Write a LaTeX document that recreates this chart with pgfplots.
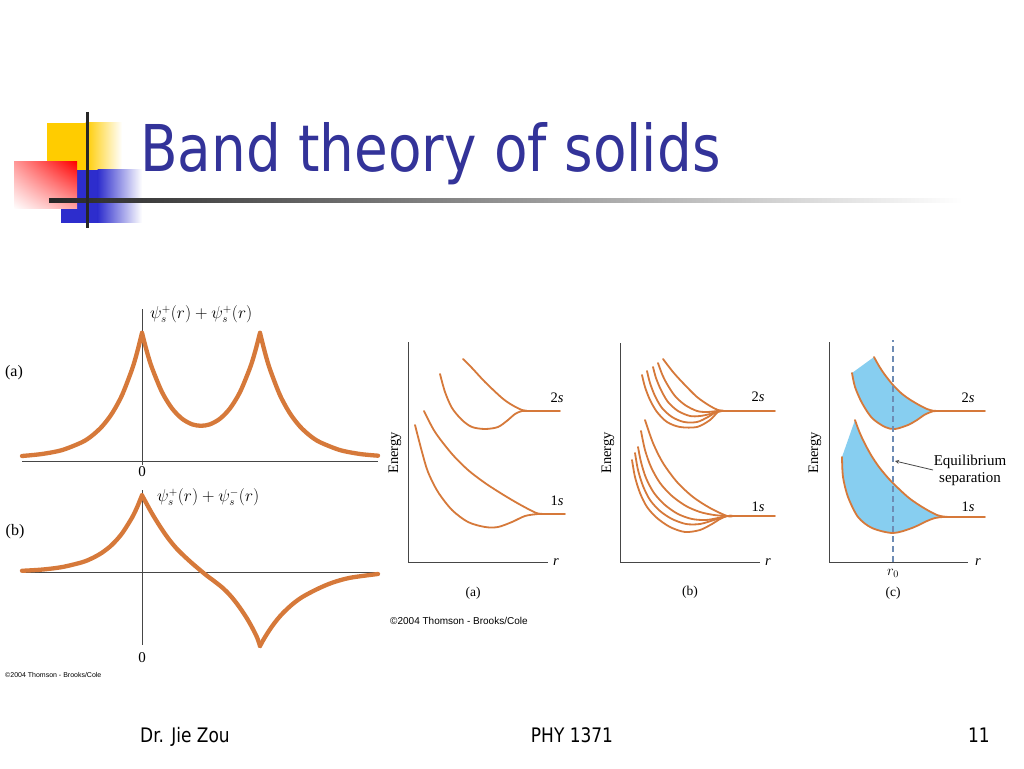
\documentclass[border=0pt]{standalone}
\usepackage{fontspec}
\setmainfont{Liberation Serif}
\newfontfamily\tahoma{DejaVu Sans}
\newfontfamily\arial{Liberation Sans}
\usepackage{graphicx}
\usepackage{pgfplots}
\pgfplotsset{compat=1.18}
\usepgfplotslibrary{fillbetween}
\usetikzlibrary{shadings}
\definecolor{titleblue}{RGB}{51,51,153}
\definecolor{orangec}{RGB}{214,121,58}
\definecolor{bandfill}{RGB}{135,206,240}
\definecolor{dashc}{RGB}{110,140,180}
\definecolor{yel}{RGB}{255,204,0}
\definecolor{blu}{RGB}{45,45,205}
\definecolor{axc}{RGB}{70,70,70}
\pgfplotsset{
  panel/.style={hide axis, scale only axis, clip=false, anchor=south west, enlargelimits=false},
  bcurve/.style={orangec, line width=1.8pt, smooth, no markers, line cap=round, line join=round},
  wcurve/.style={orangec, line width=4.3pt, smooth, no markers, line cap=round, line join=round},
  axl/.style={axc, line width=0.9pt, no markers},
}
\newcommand{\fs}[1]{\fontsize{#1}{#1}\selectfont}
\begin{document}
\begin{tikzpicture}
\fill[white] (0,0) rectangle (1024pt,768pt);
% ---------------- slide decoration and texts (image coordinates) -------------
\begin{scope}[shift={(0pt,768pt)}, x=1pt, y=-1pt]
  \fill[yel] (47,123) rectangle (86,172);
  \shade[left color=yel, right color=white] (85.5,123) rectangle (122,172);
  \fill[blu] (61,170) rectangle (98,223);
  \shade[left color=blu, right color=white] (97.5,170) rectangle (142,223);
  \shade[upper left=red!40!white, upper right=red, lower left=white, lower right=red!35!white] (14,162) rectangle (77,209);
  \shade[left color=black!85, right color=white] (49,199) rectangle (963,203);
  \draw[black!85, line width=3pt] (87,112) -- (87,228);
  \node[anchor=base west, inner sep=0, text=titleblue] at (140,172)
     {\scalebox{0.85}[1]{\tahoma\fs{64.5}Band theory of solids}};
  % footer
  \node[anchor=base west, inner sep=0] at (140,742) {\scalebox{0.85}[1]{\tahoma\fs{20}Dr. Jie Zou}};
  \node[anchor=base, inner sep=0] at (572,742) {\scalebox{0.85}[1]{\tahoma\fs{20}PHY 1371}};
  \node[anchor=base east, inner sep=0] at (990,742) {\scalebox{0.85}[1]{\tahoma\fs{20}11}};
  % left figure texts
  \node[inner sep=0] at (14,373) {\fs{16}(a)};
  \node[inner sep=0] at (15,532) {\fs{16}(b)};
  \node[anchor=west, inner sep=0] at (150,314) {\fs{16}$\psi_s^+(r)+\psi_s^+(r)$};
  \node[anchor=west, inner sep=0] at (157,497) {\fs{16}$\psi_s^+(r)+\psi_s^-(r)$};
  \node[inner sep=0] at (142,472) {\fs{15}0};
  \node[inner sep=0] at (142,658) {\fs{15}0};
  \node[anchor=west, inner sep=0] at (5,675) {\arial\fs{7}\textcopyright2004 Thomson - Brooks/Cole};
  % right figure texts
  \node[rotate=90, inner sep=0] at (395,453) {\fs{14.5}Energy};
  \node[rotate=90, inner sep=0] at (608,453) {\fs{14.5}Energy};
  \node[rotate=90, inner sep=0] at (815,453) {\fs{14.5}Energy};
  \node[inner sep=0] at (557,398) {\fs{14.5}2\textit{s}};
  \node[inner sep=0] at (557,501) {\fs{14.5}1\textit{s}};
  \node[inner sep=0] at (758,397) {\fs{14.5}2\textit{s}};
  \node[inner sep=0] at (758,507) {\fs{14.5}1\textit{s}};
  \node[inner sep=0] at (968,398) {\fs{14.5}2\textit{s}};
  \node[inner sep=0] at (968,507) {\fs{14.5}1\textit{s}};
  \node[inner sep=0] at (556,562) {\fs{14.5}\textit{r}};
  \node[inner sep=0] at (768,562) {\fs{14.5}\textit{r}};
  \node[inner sep=0] at (978,562) {\fs{14.5}\textit{r}};
  \node[inner sep=0] at (473,593) {\fs{13.5}(a)};
  \node[inner sep=0] at (690,592) {\fs{13.5}(b)};
  \node[inner sep=0] at (893,593) {\fs{13.5}(c)};
  \node[inner sep=0] at (893,573) {\fs{14}$r_0$};
  \node[inner sep=0] at (970,462) {\fs{15}Equilibrium};
  \node[inner sep=0] at (970,479) {\fs{15}separation};
  \node[anchor=west, inner sep=0] at (390,621) {\arial\fs{10}\textcopyright2004 Thomson - Brooks/Cole};
\end{scope}

% ---------------- left figure (a): psi+ + psi+ ----------------
\begin{axis}[panel, at={(12pt,297pt)}, xmin=-130, xmax=240, ymin=-10, ymax=160, width=370pt, height=170pt]
  \addplot[axl] coordinates {(-120,0) (236,0)};
  \addplot[axl] coordinates {(0,-4) (0,152)};
  \addplot[wcurve] coordinates {(-120,5.0) (-100,7.0) (-80,10.9) (-60,18.8) (-50,25.3) (-40,34.5) (-30,47.5) (-20,65.8) (-10,91.6) (-5,108.3) (0,128.1)};
  \addplot[wcurve] coordinates {(0,128.1) (5,109.0) (10,93.1) (20,68.9) (30,52.6) (40,42.3) (50,36.7) (59,35.2) (68,36.7) (78,42.3) (88,52.6) (98,68.9) (108,93.1) (113,109.0) (118,128.1)};
  \addplot[wcurve] coordinates {(118,128.1) (123,108.3) (128,91.6) (138,65.8) (148,47.5) (158,34.5) (168,25.3) (178,18.8) (198,10.9) (218,7.0) (236,5.3)};
\end{axis}

% ---------------- left figure (b): psi+ + psi- ----------------
\begin{axis}[panel, at={(12pt,106pt)}, xmin=-130, xmax=240, ymin=-90, ymax=90, width=370pt, height=180pt]
  \addplot[axl] coordinates {(-120,0) (236,0)};
  \addplot[axl] coordinates {(0,-73) (0,82)};
  \addplot[wcurve] coordinates {(-120,1.2) (-100,2.4) (-80,4.9) (-60,9.7) (-50,13.7) (-40,19.3) (-30,27.2) (-20,38.5) (-10,54.3) (-5,64.5) (0,76.7)};
  \addplot[wcurve] coordinates {(0,76.7) (5,67.5) (10,58.5) (15,50.3) (20,42.5) (25,35.3) (30,28.8) (35,23) (40,18) (45,13.3) (50,8.8) (55,4.5) (60,0.3) (65,-3.8) (70,-7.5) (75,-11.3) (80,-15.3) (85,-20) (90,-25.5) (95,-31.8) (100,-38.8) (105,-46.5) (110,-55.3) (115,-65.3) (118,-74)};
  \addplot[wcurve] coordinates {(118,-74) (121,-68.5) (125,-61.9) (130,-54.4) (135,-47.8) (141,-41) (150,-32.6) (160,-25.2) (175,-17.2) (190,-10.8) (208,-5.8) (236,-2)};
\end{axis}

% ---------------- right figure (a) ----------------
\begin{axis}[panel, at={(408pt,206pt)}, xmin=0, xmax=170, ymin=0, ymax=225, width=170pt, height=225pt]
  \addplot[axl] coordinates {(0,0) (140,0)};
  \addplot[axl] coordinates {(0,0) (0,220)};
  \addplot[bcurve] coordinates {(55,203) (64,194) (77,180) (94,164) (104,157) (114,152) (120,151)};
  \addplot[bcurve] coordinates {(32,188) (37,170) (44,154) (54,142) (64,135) (77,133) (90,135) (100,142) (107,148) (114,151) (120,151)};
  \addplot[bcurve] coordinates {(114,151) (152,151)};
  \addplot[bcurve] coordinates {(16,151) (27,130) (44,108) (60,92) (77,79) (94,68) (110,58.5) (124,51) (130,48.5) (136,48)};
  \addplot[bcurve] coordinates {(7,137) (14,110) (20,90) (30,70) (44,52) (60,40) (77,35) (90,35) (104,40) (117,46) (130,48) (136,48)};
  \addplot[bcurve] coordinates {(130,48) (157,48)};
\end{axis}

% ---------------- right figure (b) ----------------
\begin{axis}[panel, at={(620pt,206pt)}, xmin=0, xmax=170, ymin=0, ymax=225, width=170pt, height=225pt]
  \addplot[axl] coordinates {(0,0) (140,0)};
  \addplot[axl] coordinates {(0,0) (0,219)};
  \addplot[bcurve] coordinates {(22,187) (25,175) (30,162) (37,150) (47,140) (60,135) (77,135) (90,142) (98,150) (104,151)};
  \addplot[bcurve] coordinates {(27,191) (30,179) (35,166) (42,154) (52,145) (64,140) (77,140) (88,145) (98,151) (104,151)};
  \addplot[bcurve] coordinates {(33,195) (36,184) (41,172) (48,160) (58,151) (70,146) (80,146) (90,148) (98,151) (104,151)};
  \addplot[bcurve] coordinates {(38,199) (42,188) (47,178) (55,166) (65,157) (77,151) (87,150) (98,151) (104,151)};
  \addplot[bcurve] coordinates {(43,203) (53,190) (63,179) (77,165) (90,156) (98,152) (104,151)};
  \addplot[bcurve] coordinates {(98,151) (155,151)};
  \addplot[bcurve] coordinates {(12,102) (15,85) (20,69) (27,55) (37,44) (50,35) (65,30) (80,32) (92,38) (100,43) (107,46) (113,46)};
  \addplot[bcurve] coordinates {(15,109) (18,92) (23,76) (30,62) (40,51) (52,43) (66,38) (80,38) (94,42) (107,46) (113,46)};
  \addplot[bcurve] coordinates {(18,115) (21,100) (26,84) (34,69) (45,57) (58,48) (72,43) (86,42) (98,44) (107,46) (113,46)};
  \addplot[bcurve] coordinates {(21,131) (25,112) (31,95) (40,79) (52,66) (66,56) (80,50) (94,47) (107,46) (113,46)};
  \addplot[bcurve] coordinates {(25,142) (33,119) (43,99) (57,80) (73,65) (90,54) (107,46) (113,46)};
  \addplot[bcurve] coordinates {(107,46) (155,46)};
\end{axis}

% ---------------- right figure (c) ----------------
\begin{axis}[panel, at={(829pt,206pt)}, xmin=0, xmax=170, ymin=0, ymax=225, width=170pt, height=225pt]
  \addplot[draw=none, smooth, name path=tu] coordinates {(45,205) (50,196) (56,187) (64,177) (72,169) (80,163) (90,157) (98,153) (104,151.3) (110,151)};
  \addplot[draw=none, smooth, name path=tl] coordinates {(23,189) (26,175) (33,159) (43,144) (56,135) (66,133) (79,137) (88,142) (96,147.5) (104,150.7) (110,151)};
  \addplot[draw=none, smooth, name path=ou] coordinates {(26,142) (30,131) (35,120) (42,107) (50,95) (60,83) (70,73) (80,64) (90,57) (100,51) (108,47) (114,45.5) (120,45)};
  \addplot[draw=none, smooth, name path=ol] coordinates {(13,105) (14,85) (19,65) (29,45) (43,34) (64,29) (83,34) (98,41) (106,44) (114,45) (120,45)};
  \addplot[bandfill] fill between[of=tu and tl, on layer=main];
  \addplot[bandfill] fill between[of=ou and ol, on layer=main];
  \addplot[axl] coordinates {(0,0) (139,0)};
  \addplot[axl] coordinates {(0,0) (0,220)};
  \addplot[bcurve] coordinates {(45,205) (50,196) (56,187) (64,177) (72,169) (80,163) (90,157) (98,153) (104,151.3) (110,151)};
  \addplot[bcurve] coordinates {(23,189) (26,175) (33,159) (43,144) (56,135) (66,133) (79,137) (88,142) (96,147.5) (104,150.7) (110,151)};
  \addplot[bcurve] coordinates {(104,151) (156,151)};
  \addplot[bcurve] coordinates {(26,142) (30,131) (35,120) (42,107) (50,95) (60,83) (70,73) (80,64) (90,57) (100,51) (108,47) (114,45.5) (120,45)};
  \addplot[bcurve] coordinates {(13,105) (14,85) (19,65) (29,45) (43,34) (64,29) (83,34) (98,41) (106,44) (114,45) (120,45)};
  \addplot[bcurve] coordinates {(114,45) (156,45)};
  \addplot[dashc, line width=1.2pt, dash pattern=on 6pt off 4pt, no markers] coordinates {(64,0) (64,222)};
  \draw[axc, line width=0.8pt, -stealth] (axis cs:104,92) -- (axis cs:66,101);
\end{axis}
\end{tikzpicture}
\end{document}
